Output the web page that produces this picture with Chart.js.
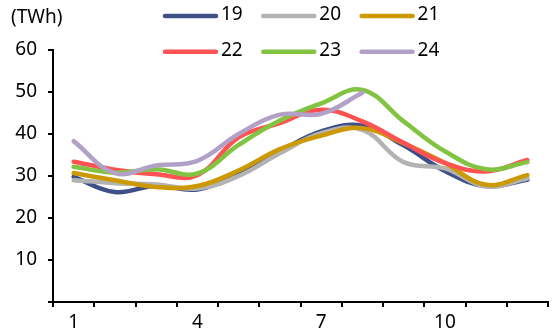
<!DOCTYPE html>
<html>
<head>
<meta charset="utf-8">
<script src="https://cdn.jsdelivr.net/npm/chart.js@4/dist/chart.umd.min.js"></script>
<style>
  html, body { margin: 0; padding: 0; background: #fff; }
  #wrap { width: 557px; height: 335px; position: relative; }
</style>
</head>
<body>
<div id="wrap"><canvas id="c" width="557" height="335"></canvas></div>
<script>
// Monthly electricity use (TWh), one series per year
const months = ['1','2','3','4','5','6','7','8','9','10','11','12'];
const shownMonths = ['1','4','7','10'];
const yTicks = [10, 20, 30, 40, 50, 60];
const unitLabel = '(TWh)';

const seriesNames = ['19','20','21','22','23','24'];
const s19 = [29.8, 26.2, 27.7, 26.8, 30.7, 35.9, 40.6, 42.0, 37.3, 31.2, 27.6, 29.1];
const s20 = [29.0, 28.3, 28.0, 27.0, 30.0, 35.4, 40.2, 41.0, 33.3, 31.8, 27.5, 29.4];
const s21 = [30.7, 29.0, 27.4, 27.6, 31.3, 36.4, 39.6, 41.4, 37.8, 33.1, 27.9, 30.2];
const s22 = [33.4, 31.5, 30.4, 30.2, 39.2, 42.6, 45.8, 43.0, 37.9, 33.1, 31.1, 33.8];
const s23 = [32.2, 30.8, 31.6, 30.6, 37.4, 43.2, 47.3, 50.5, 43.0, 35.9, 31.6, 33.3];
const s24 = [38.3, 30.7, 32.5, 33.6, 40.0, 44.6, 44.8, 49.8];
const seriesColors = ['#3F4F87', '#B3B3B3', '#CC9900', '#FF5252', '#82C341', '#B2A1C7'];

const FONT = '"Noto Sans", "Open Sans", sans-serif';
const FONT_SIZE = 19;
const allSeries = [s19, s20, s21, s22, s23, s24];

const datasets = allSeries.map((vals, i) => ({
  label: seriesNames[i],
  data: vals,
  borderColor: seriesColors[i],
  backgroundColor: seriesColors[i],
  borderWidth: 4.5,
  borderCapStyle: 'round',
  borderJoinStyle: 'round',
  pointRadius: 0,
  pointHoverRadius: 0,
  tension: 0.4,
  fill: false,
  order: allSeries.length - i   // later years sit on top
}));

// Two-row legend plus the unit caption, drawn on the canvas
const topLegend = {
  id: 'topLegend',
  afterDraw(chart) {
    const ctx = chart.ctx;
    ctx.save();
    ctx.font = FONT_SIZE + 'px ' + FONT;
    ctx.fillStyle = '#000';
    ctx.textBaseline = 'middle';
    ctx.textAlign = 'left';
    ctx.fillText(unitLabel, 11, 18);
    chart.data.datasets.forEach((ds, i) => {
      const col = i % 3, row = Math.floor(i / 3);
      const x0 = 163 + col * 98.3;
      const x1 = x0 + 55;
      const y = 16 + row * 35.7;
      ctx.strokeStyle = ds.borderColor;
      ctx.lineWidth = 4.5;
      ctx.lineCap = 'round';
      ctx.beginPath();
      ctx.moveTo(x0 + 2, y);
      ctx.lineTo(x1 - 2, y);
      ctx.stroke();
      ctx.fillStyle = '#000';
      ctx.fillText(ds.label, x1 + 3, y - 1);
    });
    ctx.restore();
  }
};

new Chart(document.getElementById('c'), {
  type: 'line',
  data: { labels: months, datasets },
  plugins: [topLegend],
  options: {
    responsive: false,
    animation: false,
    events: [],
    layout: { padding: { top: 50, right: 9, left: 0, bottom: 0 } },
    plugins: { legend: { display: false }, tooltip: { enabled: false } },
    scales: {
      x: {
        type: 'category',
        offset: true,
        afterFit(scale) { scale.height = 33; },
        grid: {
          offset: true,
          drawOnChartArea: false,
          drawTicks: true,
          tickLength: 5,
          color: '#000',
          lineWidth: 2
        },
        border: { display: true, color: '#000', width: 2 },
        ticks: {
          autoSkip: false,
          maxRotation: 0,
          padding: 4,
          color: '#000',
          font: { family: FONT, size: FONT_SIZE },
          callback(value, index) {
            const lab = months[index];
            return shownMonths.includes(lab) ? lab : '';
          }
        }
      },
      y: {
        min: 0,
        max: 60,
        afterFit(scale) { scale.width = 53; },
        afterBuildTicks(scale) {
          scale.ticks = [0].concat(yTicks).map(v => ({ value: v }));
        },
        grid: {
          drawOnChartArea: false,
          drawTicks: true,
          tickLength: 5,
          color: '#000',
          lineWidth: 2
        },
        border: { display: true, color: '#000', width: 2 },
        ticks: {
          padding: 11,
          color: '#000',
          font: { family: FONT, size: FONT_SIZE },
          callback(value) { return yTicks.includes(value) ? String(value) : ''; }
        }
      }
    }
  }
});
</script>
</body>
</html>
